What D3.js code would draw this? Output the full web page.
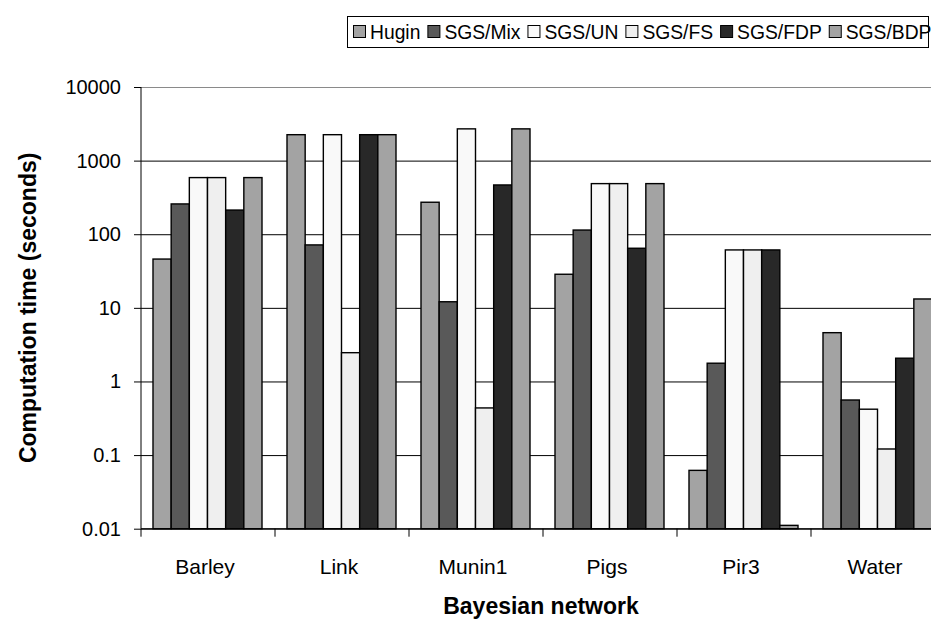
<!DOCTYPE html>
<html>
<head>
<meta charset="utf-8">
<script src="https://cdn.jsdelivr.net/npm/d3@7"></script>
<style>
  body { margin: 0; background: #fff; }
  svg { font-family: "Liberation Sans", Arial, sans-serif; }
</style>
</head>
<body>
<div id="stage_id"></div>
<script>
// categories and series
var networks = ["Barley", "Link", "Munin1", "Pigs", "Pir3", "Water"];
var seriesNames = ["Hugin", "SGS/Mix", "SGS/UN", "SGS/FS", "SGS/FDP", "SGS/BDP"];

// computation time (seconds)
var hugin  = [46, 2250, 272, 28.6, 0.062, 4.6];
var sgsMix = [258, 71.6, 12.1, 114, 1.77, 0.56];
var sgsUN  = [588, 2250, 2700, 487, 61.2, 0.42];
var sgsFS  = [588, 2.46, 0.437, 487, 61.2, 0.121];
var sgsFDP = [213, 2250, 467, 64.5, 61.2, 2.07];
var sgsBDP = [588, 2250, 2700, 487, 0.0111, 13.2];

var yTicks = [0.01, 0.1, 1, 10, 100, 1000, 10000];
var yTickLabels = ["0.01", "0.1", "1", "10", "100", "1000", "10000"];

var fills = ["#a3a3a3", "#595959", "#f9f9f9", "#efefef", "#282828", "#a3a3a3"];

var allSeries = [hugin, sgsMix, sgsUN, sgsFS, sgsFDP, sgsBDP];

var W = 931, H = 623;
var plotLeft = 141, plotTop = 87, plotBottom = 528.7;
var catW = 134;
var plotRight = plotLeft + catW * networks.length;

var svg = d3.select("#stage_id").append("svg")
  .attr("width", W).attr("height", H);

var x0 = d3.scaleBand().domain(networks).range([plotLeft, plotRight]);
var x1 = d3.scaleBand().domain(seriesNames).range([12, catW - 13]);
var y = d3.scaleLog().domain([0.01, 10000]).range([plotBottom, plotTop]);

// gridlines
svg.append("g")
  .attr("transform", "translate(" + plotLeft + ",0)")
  .call(d3.axisLeft(y).tickValues(yTicks).tickSize(-(plotRight - plotLeft)).tickFormat(""))
  .call(function(g){
    g.select(".domain").remove();
    g.selectAll(".tick line")
      .attr("stroke", function(d){ return d === 10000 ? "#8a8a8a" : "#000"; })
      .attr("stroke-width", 1);
  });

// bars
var table = [];
networks.forEach(function(n, i){
  seriesNames.forEach(function(s, j){
    table.push({net: n, ser: s, j: j, v: allSeries[j][i]});
  });
});

svg.append("g").selectAll("rect")
  .data(table)
  .enter().append("rect")
  .attr("x", function(d){ return x0(d.net) + x1(d.ser); })
  .attr("y", function(d){ return y(d.v); })
  .attr("width", x1.bandwidth())
  .attr("height", function(d){ return plotBottom - y(d.v); })
  .attr("fill", function(d){ return fills[d.j]; })
  .attr("stroke", "#000")
  .attr("stroke-width", 1.4);

// y axis
var yAxis = svg.append("g")
  .attr("transform", "translate(" + plotLeft + ",0)")
  .call(d3.axisLeft(y).tickValues(yTicks).tickSize(7).tickPadding(13)
    .tickFormat(function(d, i){ return yTickLabels[i]; }));
yAxis.select(".domain").attr("stroke", "#000").attr("d", "M0," + plotTop + "V" + plotBottom);
yAxis.selectAll("text").attr("font-size", 20).attr("fill", "#000").attr("font-family", "Liberation Sans, Arial, sans-serif");
yAxis.selectAll(".tick line").attr("stroke", "#000");

// x axis
var xAxis = svg.append("g")
  .attr("transform", "translate(0," + plotBottom + ")");
xAxis.append("line")
  .attr("x1", plotLeft).attr("x2", plotRight)
  .attr("stroke", "#000");
xAxis.selectAll(".xt")
  .data(networks.concat(["end"]))
  .enter().append("line")
  .attr("class", "xt")
  .attr("x1", function(d, i){ return plotLeft + i * x0.bandwidth(); })
  .attr("x2", function(d, i){ return plotLeft + i * x0.bandwidth(); })
  .attr("y1", 0).attr("y2", 8)
  .attr("stroke", "#000");
xAxis.selectAll(".xl")
  .data(networks)
  .enter().append("text")
  .attr("class", "xl")
  .attr("x", function(d){ return x0(d) + x0.bandwidth() / 2 - 3; })
  .attr("y", 45)
  .attr("text-anchor", "middle")
  .attr("font-size", 21)
  .text(function(d){ return d; });

// axis titles
svg.append("text")
  .attr("x", 541).attr("y", 614)
  .attr("text-anchor", "middle")
  .attr("font-size", 23).attr("font-weight", "bold")
  .text("Bayesian network");

svg.append("text")
  .attr("transform", "translate(36," + ((plotTop + plotBottom) / 2) + ") rotate(-90)")
  .attr("text-anchor", "middle")
  .attr("font-size", 23).attr("font-weight", "bold")
  .text("Computation time (seconds)");

// legend
var legend = svg.append("g");
legend.append("rect")
  .attr("x", 347.5).attr("y", 16.5)
  .attr("width", 581).attr("height", 31)
  .attr("fill", "#fff").attr("stroke", "#000");

var lx = 353;
seriesNames.forEach(function(s, j){
  legend.append("rect")
    .attr("x", lx + 0.5).attr("y", 25.5)
    .attr("width", 12).attr("height", 12)
    .attr("fill", fills[j]).attr("stroke", "#000");
  var t = legend.append("text")
    .attr("x", lx + 17).attr("y", 38.5)
    .attr("font-size", 19.3)
    .text(s);
  lx += 17 + t.node().getComputedTextLength() + 7;
});
</script>
</body>
</html>
